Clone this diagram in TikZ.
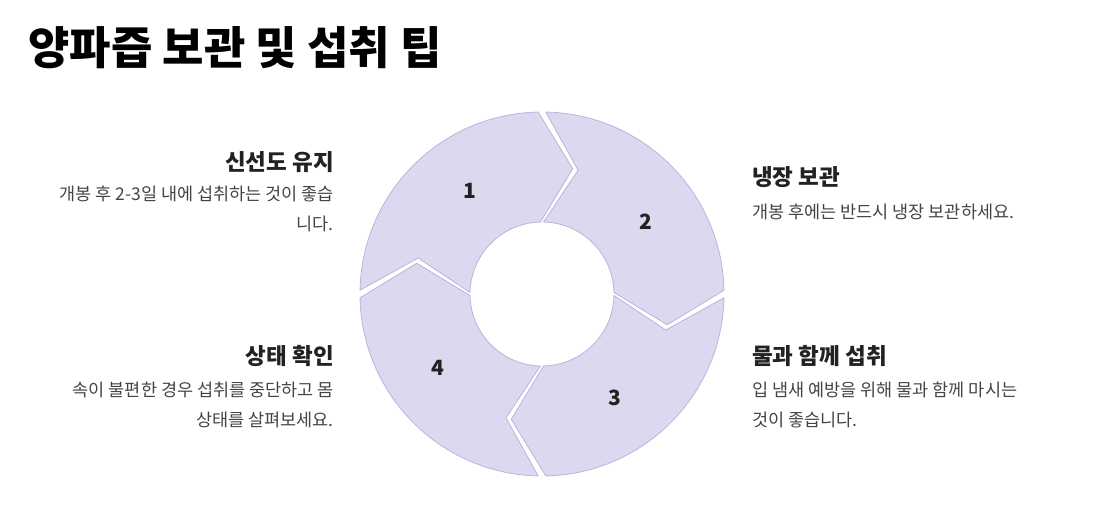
\documentclass[tikz,border=0pt]{standalone}
\usepackage{fontspec}
\setmainfont{Noto Sans CJK KR}
\definecolor{segfill}{HTML}{DAD9EF}
\definecolor{segline}{HTML}{B8B5DC}
\definecolor{bodytxt}{HTML}{444444}
\definecolor{headtxt}{HTML}{222222}
\tikzset{
 seg/.style={fill=segfill,draw=segline,line width=0.8pt,line join=round},
 num/.style={font=\fontsize{21}{24}\selectfont\bfseries,text=headtxt},
 head/.style={font=\fontsize{22.5}{24}\selectfont\bfseries,text=headtxt,inner sep=0},
 bodyL/.style={font=\fontsize{17.5}{30}\selectfont,text=bodytxt,align=right,inner sep=0},
 bodyR/.style={font=\fontsize{17.5}{30}\selectfont,text=bodytxt,align=left,inner sep=0}
}
\newcommand{\segpath}[2]{%
 \draw[seg] (#1-1.2:182) arc[start angle=#1-1.2,end angle=#2+1.2,radius=182]
  -- (#2-15+1.2:129) -- (#2+1.2:72)
  arc[start angle=#2+1.2,end angle=#1-1.2,radius=72]
  -- (#1-15-1.2:129) -- cycle;}
\begin{document}
\begin{tikzpicture}[x=1pt,y=1pt]
\useasboundingbox (0,0) rectangle (1099,506);
\node[anchor=west,inner sep=0,font=\fontsize{45}{48}\selectfont\bfseries] (title) at (28,458) {양파즙 보관 및 섭취 팁};
\begin{scope}[shift={(542,212)}]
\segpath{180}{90}
\segpath{90}{0}
\segpath{0}{-90}
\segpath{-90}{-180}
\end{scope}
\node[num] (n1) at (470,315) {1};
\node[num] (n2) at (646,284) {2};
\node[num] (n3) at (615,108) {3};
\node[num] (n4) at (438,138) {4};
\node[head,anchor=east] (h1) at (334,344) {신선도 유지};
\node[bodyL,anchor=north east] (b1) at (334,320) {개봉 후 2-3일 내에 섭취하는 것이 좋습\\니다.};
\node[head,anchor=east] (h4) at (334,150) {상태 확인};
\node[bodyL,anchor=north east] (b4) at (334,124) {속이 불편한 경우 섭취를 중단하고 몸\\상태를 살펴보세요.};
\node[head,anchor=west] (h2) at (752,329) {냉장 보관};
\node[bodyR,anchor=north west] (b2) at (752,302) {개봉 후에는 반드시 냉장 보관하세요.};
\node[head,anchor=west] (h3) at (752,150) {물과 함께 섭취};
\node[bodyR,anchor=north west] (b3) at (752,124) {입 냄새 예방을 위해 물과 함께 마시는\\것이 좋습니다.};
\end{tikzpicture}
\end{document}
